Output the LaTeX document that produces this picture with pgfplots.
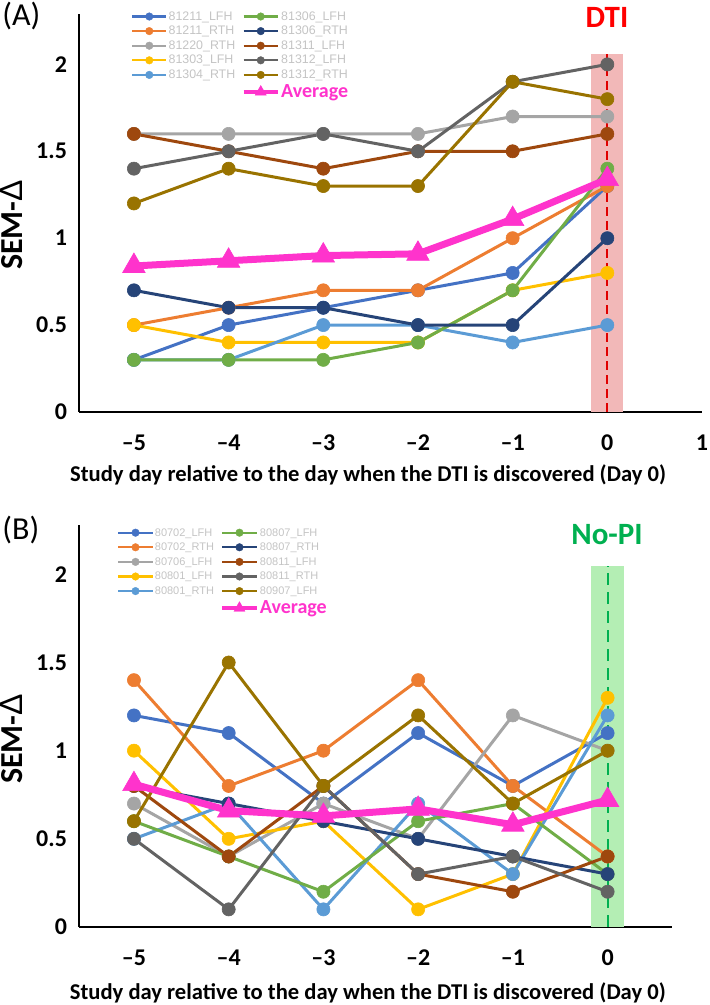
\documentclass[border=0pt]{standalone}
\usepackage{pgfplots}
\pgfplotsset{compat=1.18}
\usepackage{fontspec}
\setmainfont{Carlito}
\newfontfamily\legfont{Liberation Sans}
\definecolor{c1}{HTML}{4472C4}
\definecolor{c2}{HTML}{ED7D31}
\definecolor{c3}{HTML}{A5A5A5}
\definecolor{c4}{HTML}{FFC000}
\definecolor{c5}{HTML}{5B9BD5}
\definecolor{c6}{HTML}{70AD47}
\definecolor{c7}{HTML}{264478}
\definecolor{c8}{HTML}{9E480E}
\definecolor{c9}{HTML}{636363}
\definecolor{c10}{HTML}{997300}
\definecolor{avg}{HTML}{FF33CC}
\definecolor{legtext}{HTML}{C4C4C4}
\definecolor{redband}{HTML}{F2B8B8}
\definecolor{greenband}{HTML}{B4EEB4}
\definecolor{dred}{HTML}{E00000}
\definecolor{dgreen}{HTML}{00B050}
\pgfplotsset{
  ser/.style={color=#1, line width=1.5pt, mark=*, mark size=3.3pt, mark options={solid, line width=0.3pt}, forget plot},
  leg/.style={color=#1, line width=1.1pt, mark=*, mark size=1.9pt, mark options={solid, line width=0.2pt}},
  avgplot/.style={color=avg, line width=3.5pt, mark=triangle*, mark size=6.5pt, mark options={solid, line width=0.3pt}, forget plot},
  avgleg/.style={color=avg, line width=2.2pt, mark=triangle*, mark size=3.2pt, mark options={solid, line width=0.2pt}},
  myax/.style={
    scale only axis,
    axis lines*=left,
    axis line style={black, line width=1pt},
    major tick length=0pt,
    xmin=-5.58, ymin=0,
    ytick={0,0.5,1,1.5,2}, yticklabels={0,0.5,1,1.5,2},
    tick label style={font=\bfseries\fontsize{12}{14}\selectfont},
    yticklabel style={xshift=-2.5pt},
    xticklabel style={yshift=-8pt},
    ylabel={SEM-{\mdseries\legfont Δ}},
    ylabel style={font=\bfseries\fontsize{16}{18}\selectfont},
    xlabel={Study day relative to the day when the DTI is discovered (Day 0)},
    xlabel style={font=\bfseries\fontsize{11.3}{13}\selectfont, anchor=center},
    clip=false,
    legend cell align=left,
    legend columns=2,
    legend style={draw=none, fill=none, text=legtext, anchor=north west, inner sep=0pt,
      nodes={inner sep=0.6pt, text height=4.8pt, text depth=1.3pt},
      /tikz/every even column/.append style={column sep=2.5pt}},
  }
}
\begin{document}
\begin{tikzpicture}
\path[use as bounding box] (0,0) rectangle (354.5pt,502.5pt);
% ---------------- Panel A ----------------
\begin{axis}[myax,
  at={(39.5pt,296.5pt)}, anchor=south west,
  width=311.5pt, height=199pt,
  xmax=1, ymax=2.29,
  xtick={-5,-4,-3,-2,-1,0,1},
  xticklabels={\textendash5,\textendash4,\textendash3,\textendash2,\textendash1,0,1},
  ylabel style={at={(axis description cs:-0.108,0.47)}, anchor=center},
  xlabel style={at={(axis description cs:0.464,-0.158)}},
  legend style={at={(axis description cs:0.083,1.013)}, font=\legfont\fontsize{6.2}{7}\selectfont},
]
\addplot[fill=redband, draw=none, forget plot] coordinates {(-0.17,0) (0.17,0) (0.17,2.06) (-0.17,2.06)} -- cycle;
\addplot[dred, line width=1pt, dash pattern=on 4.5pt off 2.5pt, forget plot] coordinates {(0,0) (0,2.06)};
\addplot[ser=c1]  coordinates {(-5,0.3) (-4,0.5) (-3,0.6) (-2,0.7) (-1,0.8) (0,1.3)};
\addplot[ser=c2]  coordinates {(-5,0.5) (-4,0.6) (-3,0.7) (-2,0.7) (-1,1.0) (0,1.3)};
\addplot[ser=c3]  coordinates {(-5,1.6) (-4,1.6) (-3,1.6) (-2,1.6) (-1,1.7) (0,1.7)};
\addplot[ser=c4]  coordinates {(-5,0.5) (-4,0.4) (-3,0.4) (-2,0.4) (-1,0.7) (0,0.8)};
\addplot[ser=c5]  coordinates {(-5,0.3) (-4,0.3) (-3,0.5) (-2,0.5) (-1,0.4) (0,0.5)};
\addplot[ser=c6]  coordinates {(-5,0.3) (-4,0.3) (-3,0.3) (-2,0.4) (-1,0.7) (0,1.4)};
\addplot[ser=c7]  coordinates {(-5,0.7) (-4,0.6) (-3,0.6) (-2,0.5) (-1,0.5) (0,1.0)};
\addplot[ser=c8]  coordinates {(-5,1.6) (-4,1.5) (-3,1.4) (-2,1.5) (-1,1.5) (0,1.6)};
\addplot[ser=c9]  coordinates {(-5,1.4) (-4,1.5) (-3,1.6) (-2,1.5) (-1,1.9) (0,2.0)};
\addplot[ser=c10] coordinates {(-5,1.2) (-4,1.4) (-3,1.3) (-2,1.3) (-1,1.9) (0,1.8)};
\addplot[avgplot] coordinates {(-5,0.84) (-4,0.87) (-3,0.90) (-2,0.91) (-1,1.11) (0,1.34)};
\addlegendimage{leg=c1}\addlegendentry{81211\_LFH}
\addlegendimage{leg=c6}\addlegendentry{81306\_LFH}
\addlegendimage{leg=c2}\addlegendentry{81211\_RTH}
\addlegendimage{leg=c7}\addlegendentry{81306\_RTH}
\addlegendimage{leg=c3}\addlegendentry{81220\_RTH}
\addlegendimage{leg=c8}\addlegendentry{81311\_LFH}
\addlegendimage{leg=c4}\addlegendentry{81303\_LFH}
\addlegendimage{leg=c9}\addlegendentry{81312\_LFH}
\addlegendimage{leg=c5}\addlegendentry{81304\_RTH}
\addlegendimage{leg=c10}\addlegendentry{81312\_RTH}
\addlegendimage{empty legend}\addlegendentry{}
\addlegendimage{avgleg}\addlegendentry[text=avg, font=\bfseries\fontsize{10}{11}\selectfont, text height=7pt, text depth=1.5pt]{Average}
\end{axis}
% ---------------- Panel B ----------------
\begin{axis}[myax,
  at={(39.5pt,39pt)}, anchor=south west,
  width=296.5pt, height=201pt,
  xmax=0.68, ymax=2.28,
  xtick={-5,-4,-3,-2,-1,0},
  xticklabels={\textendash5,\textendash4,\textendash3,\textendash2,\textendash1,0},
  ylabel style={at={(axis description cs:-0.113,0.468)}, anchor=center},
  xlabel style={at={(axis description cs:0.487,-0.164)}},
  legend style={at={(axis description cs:0.064,1.0)}, font=\legfont\fontsize{5.5}{6.5}\selectfont},
]
\addplot[fill=greenband, draw=none, forget plot] coordinates {(-0.17,0) (0.17,0) (0.17,2.05) (-0.17,2.05)} -- cycle;
\addplot[dgreen, line width=1pt, dash pattern=on 6pt off 3.5pt, forget plot] coordinates {(0,0) (0,2.05)};
\addplot[ser=c1]  coordinates {(-5,1.2) (-4,1.1) (-3,0.7) (-2,1.1) (-1,0.8) (0,1.1)};
\addplot[ser=c2]  coordinates {(-5,1.4) (-4,0.8) (-3,1.0) (-2,1.4) (-1,0.8) (0,0.4)};
\addplot[ser=c3]  coordinates {(-5,0.7) (-4,0.4) (-3,0.7) (-2,0.5) (-1,1.2) (0,1.0)};
\addplot[ser=c4]  coordinates {(-5,1.0) (-4,0.5) (-3,0.6) (-2,0.1) (-1,0.3) (0,1.3)};
\addplot[ser=c5]  coordinates {(-5,0.5) (-4,0.7) (-3,0.1) (-2,0.7) (-1,0.3) (0,1.2)};
\addplot[ser=c6]  coordinates {(-5,0.6) (-4,0.4) (-3,0.2) (-2,0.6) (-1,0.7) (0,0.3)};
\addplot[ser=c7]  coordinates {(-5,0.8) (-4,0.7) (-3,0.6) (-2,0.5) (-1,0.4) (0,0.3)};
\addplot[ser=c8]  coordinates {(-5,0.8) (-4,0.4) (-3,0.8) (-2,0.3) (-1,0.2) (0,0.4)};
\addplot[ser=c9]  coordinates {(-5,0.5) (-4,0.1) (-3,0.8) (-2,0.3) (-1,0.4) (0,0.2)};
\addplot[ser=c10] coordinates {(-5,0.6) (-4,1.5) (-3,0.8) (-2,1.2) (-1,0.7) (0,1.0)};
\addplot[avgplot] coordinates {(-5,0.81) (-4,0.66) (-3,0.63) (-2,0.67) (-1,0.58) (0,0.72)};
\addlegendimage{leg=c1}\addlegendentry{80702\_LFH}
\addlegendimage{leg=c6}\addlegendentry{80807\_LFH}
\addlegendimage{leg=c2}\addlegendentry{80702\_RTH}
\addlegendimage{leg=c7}\addlegendentry{80807\_RTH}
\addlegendimage{leg=c3}\addlegendentry{80706\_LFH}
\addlegendimage{leg=c8}\addlegendentry{80811\_LFH}
\addlegendimage{leg=c4}\addlegendentry{80801\_LFH}
\addlegendimage{leg=c9}\addlegendentry{80811\_RTH}
\addlegendimage{leg=c5}\addlegendentry{80801\_RTH}
\addlegendimage{leg=c10}\addlegendentry{80907\_LFH}
\addlegendimage{empty legend}\addlegendentry{}
\addlegendimage{avgleg}\addlegendentry[text=avg, font=\bfseries\fontsize{10}{11}\selectfont, text height=7pt, text depth=1.5pt]{Average}
\end{axis}
\node[font=\bfseries\fontsize{15.5}{17}\selectfont, text=red] at (303.5pt,494pt) {DTI};
\node[font=\bfseries\fontsize{15.5}{17}\selectfont, text=dgreen] at (303.5pt,235pt) {No-PI};
\node[font=\fontsize{16}{18}\selectfont, anchor=west, inner sep=0pt] at (1pt,494.5pt) {(A)};
\node[font=\fontsize{16}{18}\selectfont, anchor=west, inner sep=0pt] at (1pt,237.5pt) {(B)};
\end{tikzpicture}
\end{document}
